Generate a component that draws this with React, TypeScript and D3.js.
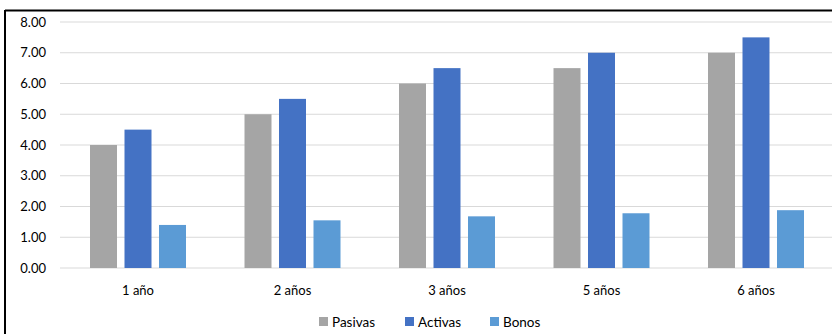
import React from "react";
import * as d3 from "d3";

const categories = ["1 año", "2 años", "3 años", "5 años", "6 años"];
const seriesNames = ["Pasivas", "Activas", "Bonos"];
const pasivas = [4.0, 5.0, 6.0, 6.5, 7.0];
const activas = [4.5, 5.5, 6.5, 7.0, 7.5];
const bonos = [1.4, 1.55, 1.68, 1.78, 1.88];
const colors = ["#A5A5A5", "#4472C4", "#5B9BD5"];
const yTicks = [0, 1, 2, 3, 4, 5, 6, 7, 8];

export default function App() {
  const W = 832, H = 334;
  const font = "Lato, 'Open Sans', sans-serif";
  const x = d3.scaleBand<string>().domain(categories).range([60.75, 833.25]).paddingInner(0).paddingOuter(0);
  const y = d3.scaleLinear().domain([0, 8]).range([268, 22]);
  const groupW = 96;
  const inner = d3.scaleBand<string>().domain(seriesNames).range([0, groupW]).paddingInner(7.5 / 34.5).paddingOuter(0);
  const data = [pasivas, activas, bonos];
  const groupOffset = (x.bandwidth() - groupW) / 2;

  const legendItems = [
    { name: "Pasivas", x: 319 },
    { name: "Activas", x: 405 },
    { name: "Bonos", x: 490 },
  ];

  return (
    <svg width={W} height={H} style={{ position: "absolute", left: 0, top: 0, background: "#fff" }}>
      <rect x={0} y={0} width={W} height={H} fill="#fff" />
      {yTicks.map((t) => (
        <g key={t}>
          <line x1={60} x2={W} y1={y(t)} y2={y(t)} stroke="#D9D9D9" strokeWidth={1} />
          <text x={46} y={y(t)} dy="0.35em" textAnchor="end" fontFamily={font} fontSize={13} fill="#000">
            {d3.format(".2f")(t)}
          </text>
        </g>
      ))}
      {categories.map((c, i) => (
        <g key={c}>
          {seriesNames.map((s, j) => {
            const v = data[j][i];
            return (
              <rect
                key={s}
                x={(x(c) as number) + groupOffset + (inner(s) as number)}
                y={y(v)}
                width={inner.bandwidth()}
                height={y(0) - y(v)}
                fill={colors[j]}
              />
            );
          })}
          <text x={(x(c) as number) + x.bandwidth() / 2} y={290} dy="0.35em" textAnchor="middle" fontFamily={font} fontSize={13} fill="#000">
            {c}
          </text>
        </g>
      ))}
      {legendItems.map((l, i) => (
        <g key={l.name}>
          <rect x={l.x} y={317} width={9} height={9} fill={colors[i]} />
          <text x={l.x + 13} y={322} dy="0.35em" fontFamily={font} fontSize={13.5} fill="#000">
            {l.name}
          </text>
        </g>
      ))}
      <line x1={5} x2={W} y1={10.5} y2={10.5} stroke="#000" strokeWidth={2} />
      <line x1={5} x2={5} y1={10} y2={H} stroke="#000" strokeWidth={2} />
    </svg>
  );
}
